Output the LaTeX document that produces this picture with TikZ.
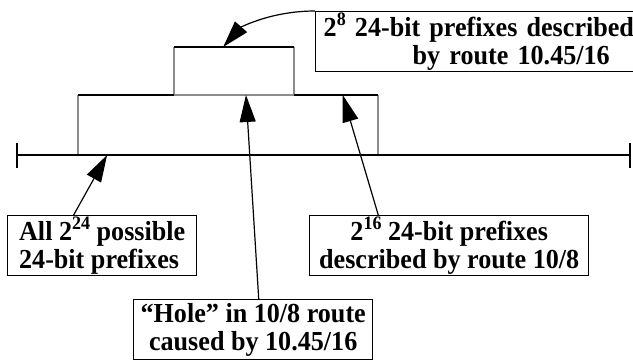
\documentclass[tikz,border=0pt]{standalone}
\usepackage{fontspec}
\setmainfont{Liberation Serif}[FakeStretch=0.95]
\usetikzlibrary{arrows.meta,calc}
\newcommand{\pw}[1]{\raisebox{11pt}{\fontsize{19}{19}\selectfont #1}}

\begin{document}
\begin{tikzpicture}[x=1pt,y=-1pt,
		font=\bfseries\fontsize{27.5}{28}\selectfont,
		bar/.style={line width=2.2pt},
		faint/.style={line width=1.8pt,draw=black!45},
		callout/.style={draw,line width=1.4pt,inner sep=0pt,minimum height=60pt,anchor=north west},
		pointer/.style={line width=1.2pt,-{Triangle[length=27pt,width=16pt]}}]
	\clip (0,0) rectangle (633,360);
	% address line
	\coordinate (l) at (17,155);
	\coordinate (r) at (630,155);
	% route 10/8
	\coordinate (b1) at (78,155);
	\coordinate (b2) at (378,155);
	\coordinate (b3) at (78,95);
	\coordinate (b4) at (378,95);
	% route 10.45/16
	\coordinate (s1) at (174,95);
	\coordinate (s2) at (294,95);
	\coordinate (s3) at (174,47);
	\coordinate (s4) at (294,47);
	%
	\draw[faint] (b1) -- (b3) (b2) -- (b4);
	\draw[faint] (s1) -- (s3) (s2) -- (s4) (s1) -- (s2);
	\draw[bar] (l) -- (r);
	\draw[bar] ($(l)+(0,-12)$) -- ($(l)+(0,13)$);
	\draw[bar] ($(r)+(0,-12)$) -- ($(r)+(0,13)$);
	\draw[bar] (b3) -- (s1) (s2) -- (b4);
	\draw[bar] (s3) -- (s4);
	%
	\node[callout,text width=324pt,inner xsep=8pt,align=left] (sub) at (315,11)
		{2\pw{8} 24-bit prefixes described\\\hspace*{89pt}by route 10.45/16};
	\node[callout,minimum width=189pt,align=left] (all) at (7,215)
		{All 2\pw{24} possible\\24-bit prefixes};
	\node[callout,minimum width=279pt,align=center] (covered) at (309,215)
		{2\pw{16} 24-bit prefixes\\described by route 10/8};
	\node[callout,minimum width=239pt,align=center] (hole) at (133,299)
		{“Hole” in 10/8 route\\caused by 10.45/16};
	%
	\draw[pointer] ($(all.north west)!0.35!(all.north east)$) -- ($(l)!0.147!(r)$);
	\draw[pointer] ($(hole.north west)!0.523!(hole.north east)$) -- ($(s1)!0.6!(s2)$);
	\draw[pointer] ($(covered.north west)!0.247!(covered.north east)$) -- ($(s2)!0.58!(b4)$);
	\draw[pointer] (sub.north west) .. controls (270,11) and (240,28) .. ($(s3)!0.41!(s4)$);
\end{tikzpicture}
\end{document}
